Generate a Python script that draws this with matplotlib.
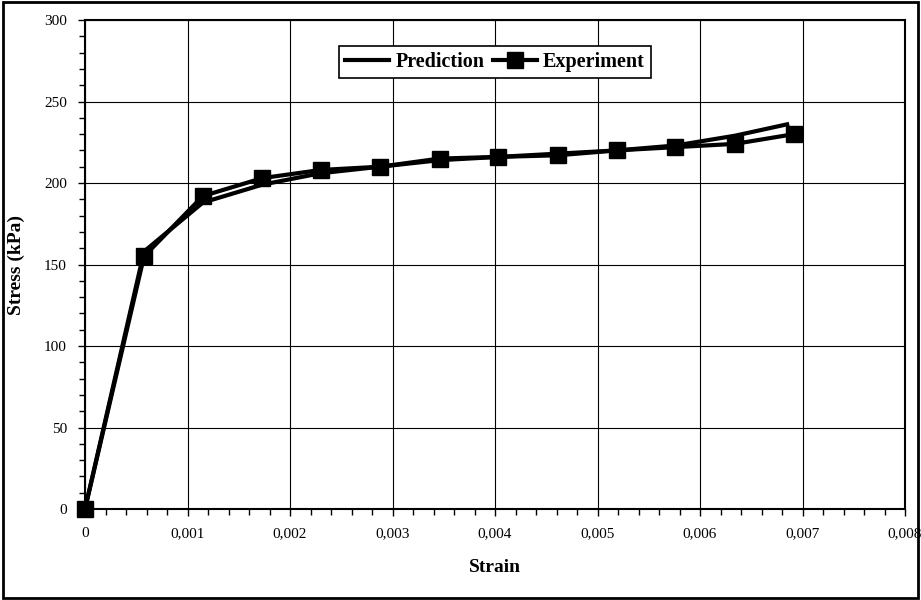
import matplotlib
matplotlib.use("Agg")
import matplotlib.pyplot as plt
from matplotlib.ticker import MultipleLocator, FuncFormatter
from matplotlib.patches import Rectangle

plt.rcParams['font.family'] = ['Liberation Serif', 'DejaVu Serif']

exp_strain = [0, 0.000576, 0.00115, 0.00173, 0.0023, 0.00288, 0.00346, 0.00403,
              0.00461, 0.00519, 0.00576, 0.00634, 0.00692]
exp_stress = [0, 155, 192, 203, 208, 210, 215, 216, 217, 220, 222, 224, 230]

pred_strain = [0, 0.000576, 0.00115, 0.00173, 0.0023, 0.00288, 0.00346, 0.00403,
               0.00461, 0.00519, 0.00576, 0.00634, 0.00685]
pred_stress = [0, 158, 188, 199, 206, 210, 214, 216, 218, 220, 223, 229, 236]

fig = plt.figure(figsize=(9.21, 6.0), dpi=100)
ax = fig.add_axes([85/921, 1 - 509/600, 820/921, 489/600])

ax.plot(pred_strain, pred_stress, color='black', lw=3, label='Prediction', zorder=3)
ax.plot(exp_strain, exp_stress, color='black', lw=3, marker='s', markersize=11,
        label='Experiment', zorder=4, clip_on=False)

ax.set_xlim(0, 0.008)
ax.set_ylim(0, 300)
ax.xaxis.set_major_locator(MultipleLocator(0.001))
ax.xaxis.set_minor_locator(MultipleLocator(0.0002))
ax.yaxis.set_major_locator(MultipleLocator(50))
ax.yaxis.set_minor_locator(MultipleLocator(10))

def xfmt(v, pos):
    if abs(v) < 1e-12:
        return '0'
    return ('%.3f' % v).replace('.', ',')
ax.xaxis.set_major_formatter(FuncFormatter(xfmt))

ax.grid(True, which='major', color='black', lw=0.8)
ax.tick_params(axis='both', which='major', direction='out', length=5, width=1, labelsize=11, pad=8)
ax.tick_params(axis='both', which='minor', direction='out', length=4, width=1)
for s in ax.spines.values():
    s.set_linewidth(1.5)
    s.set_color('black')

ax.set_xlabel('Strain', fontsize=14, fontweight='bold', labelpad=14)
ax.set_ylabel('Stress (kPa)', fontsize=14, fontweight='bold', labelpad=14)

leg = ax.legend(loc='upper center', bbox_to_anchor=(0.5, 0.968), ncol=2,
                prop={'weight': 'bold', 'size': 14.5}, frameon=True, fancybox=False,
                edgecolor='black', handlelength=2.2, columnspacing=0.4,
                handletextpad=0.3, borderpad=0.3)
leg.get_frame().set_linewidth(1.2)
leg.get_frame().set_alpha(1)

fig.patches.append(Rectangle((0.003, 0.003), 0.994, 0.994, transform=fig.transFigure,
                             fill=False, edgecolor='black', lw=2))

fig.savefig('out.png', dpi=100)
